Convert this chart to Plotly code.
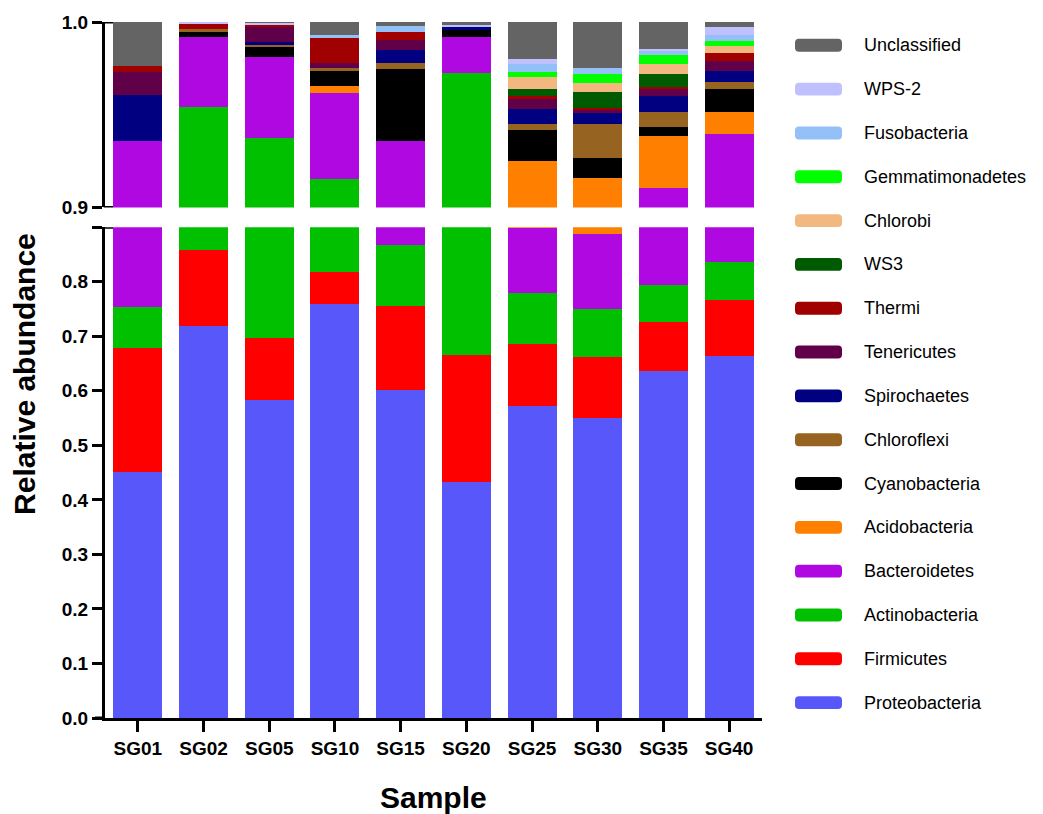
import plotly.graph_objects as go

# Samples along the x axis
samples = ["SG01", "SG02", "SG05", "SG10", "SG15", "SG20", "SG25", "SG30", "SG35", "SG40"]

# Relative abundance of each phylum per sample (stacked bottom -> top)
proteobacteria   = [0.451, 0.719, 0.584, 0.760, 0.601, 0.433, 0.573, 0.551, 0.636, 0.663]
firmicutes       = [0.227, 0.140, 0.112, 0.058, 0.154, 0.232, 0.112, 0.111, 0.091, 0.103]
actinobacteria   = [0.076, 0.095, 0.2415, 0.0972, 0.112, 0.3076, 0.094, 0.088, 0.067, 0.071]
bacteroidetes    = [0.182, 0.038, 0.0435, 0.0466, 0.069, 0.0192, 0.120, 0.137, 0.1162, 0.1028]
acidobacteria    = [0.0, 0.0, 0.0, 0.0036, 0.0, 0.0, 0.0261, 0.029, 0.0283, 0.0116]
cyanobacteria    = [0.0, 0.0024, 0.0054, 0.0081, 0.0387, 0.0041, 0.0165, 0.0109, 0.0049, 0.0122]
chloroflexi      = [0.0, 0.0018, 0.0014, 0.0016, 0.0031, 0.0, 0.0032, 0.0183, 0.008, 0.004]
spirochaetes     = [0.0245, 0.0, 0.0013, 0.0, 0.0071, 0.0012, 0.0084, 0.0059, 0.0086, 0.0062]
tenericutes      = [0.0125, 0.0, 0.008, 0.0029, 0.0056, 0.0, 0.0054, 0.0012, 0.0036, 0.0051]
thermi           = [0.0035, 0.0027, 0.0015, 0.0134, 0.0039, 0.0, 0.0014, 0.0015, 0.0013, 0.0044]
ws3              = [0.0, 0.0, 0.0, 0.0, 0.0, 0.0, 0.0036, 0.0084, 0.0071, 0.0]
chlorobi         = [0.0, 0.0, 0.0, 0.0, 0.0, 0.0, 0.0067, 0.0048, 0.0054, 0.004]
gemmatimonadetes = [0.0, 0.0, 0.0, 0.0, 0.0, 0.0, 0.0026, 0.005, 0.0049, 0.0023]
fusobacteria     = [0.0, 0.0, 0.0, 0.0016, 0.0033, 0.0, 0.0045, 0.0033, 0.0018, 0.0036]
wps2             = [0.0, 0.0011, 0.001, 0.0, 0.0, 0.0015, 0.0027, 0.0, 0.0014, 0.0039]
unclassified     = [0.0235, 0.0, 0.0004, 0.007, 0.0023, 0.0014, 0.0199, 0.0247, 0.0145, 0.0029]

series = [
    ("Proteobacteria", proteobacteria, "#5858FA"),
    ("Firmicutes", firmicutes, "#FF0000"),
    ("Actinobacteria", actinobacteria, "#00C000"),
    ("Bacteroidetes", bacteroidetes, "#B008E0"),
    ("Acidobacteria", acidobacteria, "#FF8000"),
    ("Cyanobacteria", cyanobacteria, "#000000"),
    ("Chloroflexi", chloroflexi, "#966420"),
    ("Spirochaetes", spirochaetes, "#000080"),
    ("Tenericutes", tenericutes, "#600048"),
    ("Thermi", thermi, "#A00000"),
    ("WS3", ws3, "#005A00"),
    ("Chlorobi", chlorobi, "#F2B880"),
    ("Gemmatimonadetes", gemmatimonadetes, "#00FF00"),
    ("Fusobacteria", fusobacteria, "#94C0F8"),
    ("WPS-2", wps2, "#C0C0FF"),
    ("Unclassified", unclassified, "#646464"),
]

# Figure geometry (pixels)
W, H = 1043, 814
L, R, T, B = 105, 281, 16, 96
PW, PH = W - L - R, H - T - B
LOW_TOP_PX = 495      # height of lower panel (0 - 0.9)
GAP_PX = 20           # break between panels

FONT = "Liberation Sans"

fig = go.Figure()
for name, vals, col in series:
    for ax in ("y", "y2"):
        fig.add_trace(go.Bar(
            x=samples, y=vals, name=name, yaxis=ax,
            marker=dict(color=col, line=dict(width=0)),
            showlegend=False,
        ))

tickfont = dict(family=FONT, size=19, color="black", weight="bold")
axis_common = dict(
    showline=True, linewidth=3, linecolor="black", showgrid=False, zeroline=False,
    ticks="outside", ticklen=10, tickwidth=3, tickcolor="black", tickfont=tickfont,
)

low_dom = LOW_TOP_PX / PH
up_dom = (LOW_TOP_PX + GAP_PX) / PH

fig.update_layout(
    width=W, height=H,
    margin=dict(l=L, r=R, t=T, b=B),
    paper_bgcolor="white", plot_bgcolor="white",
    barmode="stack", bargap=0.254,
    xaxis=dict(axis_common, anchor="y", range=[-0.5, 9.5], ticklen=11),
    yaxis=dict(axis_common, domain=[0, low_dom], range=[0, 0.9],
               tickvals=[0, 0.1, 0.2, 0.3, 0.4, 0.5, 0.6, 0.7, 0.8, 0.9],
               ticktext=["0.0", "0.1", "0.2", "0.3", "0.4", "0.5", "0.6", "0.7", "0.8", ""]),
    yaxis2=dict(axis_common, domain=[up_dom, 1], range=[0.9, 1.0], anchor="x",
                tickvals=[0.9, 1.0], ticktext=["0.9", "1.0"]),
)


def px_x(px):
    return (px - L) / PW


def px_y(py):
    return (H - B - py) / PH


shapes = []
# Inner caps at the ends of the broken axis
cap = 8 / PW
for yref, yv in (("y", 0.9), ("y2", 0.9), ("y2", 1.0)):
    shapes.append(dict(type="line", xref="paper", yref=yref, x0=-0.002, x1=cap, y0=yv, y1=yv,
                       line=dict(color="black", width=3)))
# x axis line runs out to the tick ends on the left
shapes.append(dict(type="line", xref="paper", yref="y", x0=px_x(95), x1=0, y0=0, y1=0,
                   line=dict(color="black", width=3)))

# Legend: rounded swatches with labels, top entry = last stacked series
annotations = []
sw_x0, sw_x1, sw_h, rad = 795, 842, 13, 4
for i, (name, vals, col) in enumerate(reversed(series)):
    cy = 39.5 + i * 44.2
    x0, x1 = px_x(sw_x0), px_x(sw_x1)
    y0, y1 = px_y(cy + sw_h / 2), px_y(cy - sw_h / 2)
    rx, ry = rad / PW, rad / PH
    path = (f"M {x0+rx},{y0} L {x1-rx},{y0} Q {x1},{y0} {x1},{y0+ry} "
            f"L {x1},{y1-ry} Q {x1},{y1} {x1-rx},{y1} L {x0+rx},{y1} "
            f"Q {x0},{y1} {x0},{y1-ry} L {x0},{y0+ry} Q {x0},{y0} {x0+rx},{y0} Z")
    shapes.append(dict(type="path", xref="paper", yref="paper", path=path,
                       fillcolor=col, line=dict(width=0)))
    annotations.append(dict(x=px_x(862), y=px_y(cy), xref="paper", yref="paper",
                            text=name, showarrow=False, xanchor="left", yanchor="middle",
                            font=dict(family=FONT, size=18, color="black")))

# Axis titles
annotations.append(dict(x=px_x(25), y=px_y(371), xref="paper", yref="paper",
                        text="Relative abundance", textangle=-90, showarrow=False,
                        xanchor="center", yanchor="middle",
                        font=dict(family=FONT, size=30, color="black", weight="bold")))
annotations.append(dict(x=px_x(433), y=px_y(798), xref="paper", yref="paper",
                        text="Sample", showarrow=False, xanchor="center", yanchor="middle",
                        font=dict(family=FONT, size=30, color="black", weight="bold")))

fig.update_layout(shapes=shapes, annotations=annotations)

fig.write_html("out.html")
